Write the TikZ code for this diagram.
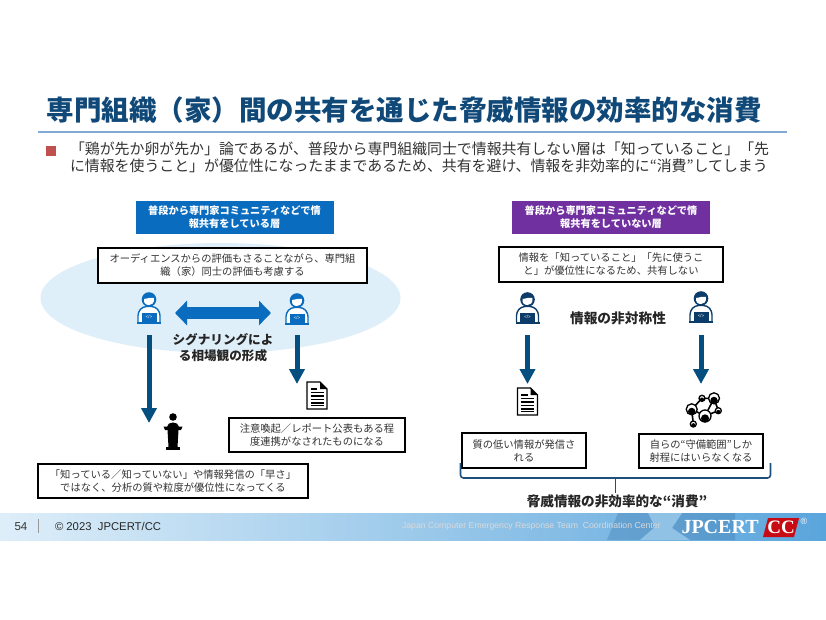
\documentclass[tikz,border=0pt]{standalone}
\usepackage{fontspec}
\setmainfont{Noto Sans CJK JP}
\newfontfamily\latinfont{Liberation Sans}
\newfontfamily\logofont{Liberation Serif}
\usetikzlibrary{arrows.meta}

\definecolor{title-blue}{RGB}{16, 72, 120}
\definecolor{rule-blue}{RGB}{130, 170, 210}
\definecolor{bullet-red}{RGB}{192, 80, 77}
\definecolor{head-blue}{RGB}{10, 108, 190}
\definecolor{head-purple}{RGB}{112, 48, 160}
\definecolor{oval-blue}{RGB}{222, 239, 249}
\definecolor{arrow-blue}{RGB}{4, 78, 128}
\definecolor{brace-blue}{RGB}{30, 80, 125}
\definecolor{icon-dark}{RGB}{12, 60, 105}
\definecolor{body-grey}{RGB}{50, 50, 50}
\definecolor{logo-red}{RGB}{200, 10, 20}
\definecolor{band-light}{RGB}{222, 238, 249}
\definecolor{band-mid}{RGB}{165, 210, 240}
\definecolor{band-deep}{RGB}{90, 165, 220}
\definecolor{map-blue}{RGB}{50, 110, 165}

\tikzset{
    coder/.pic={
        \fill[#1] (0,-13.5) circle (7.3pt);
        \fill[white] (-5,-14) .. controls (-1,-14.5) and (2,-16) .. (5,-15) .. controls (5.5,-9.5) and (2.5,-8) .. (0,-8) .. controls (-3,-8) and (-5.5,-9.5) .. cycle;
        \draw[#1, line width=1.4pt, fill=white, rounded corners=3.5pt] (-11,9) -- (-11,-1) -- (-6,-6.5) -- (6,-6.5) -- (11,-1) -- (11,9);
        \fill[#1] (-7.5,-0.5) rectangle (7.5,8.5);
        \fill[#1] (-12,8.5) rectangle (12,10.5);
        \node[text=white, font=\latinfont\fontsize{4.5}{5}\selectfont, inner sep=0pt] (tag) at (0,4) {</>};
    },
    paper/.pic={
        \draw[black, line width=1.4pt, fill=white] (-10,-13.5) -- (3,-13.5) -- (10,-6.5) -- (10,13.5) -- (-10,13.5) -- cycle;
        \fill[black] (3,-13.5) -- (10,-6.5) -- (3,-6.5) -- cycle;
        \foreach \y in {-3,0.5,4,7.5,10} {
            \draw[black, line width=1.5pt] (-6.5,\y) -- (6.5,\y);
        }
        \draw[black, line width=1.5pt] (-6.5,-6.5) -- (0,-6.5);
    },
    speaker/.pic={
        \fill[black] (0,-15) circle (3.8pt);
        \fill[black] (-6,-5) .. controls (-6,-11) and (6,-11) .. (6,-5) -- cycle;
        \fill[black] (-9.5,-5.5) -- (9.5,-5.5) -- (8,-2) -- (-8,-2) -- cycle;
        \fill[black] (-5.5,-2) -- (5.5,-2) -- (4.5,15) -- (-4.5,15) -- cycle;
        \fill[black] (-7,15) rectangle (7,18);
    },
    linked/.pic={
        \draw[black, line width=1.6pt] (-11.3,-0.7) -- (-1,-11.7) -- (11,-11.7) -- (15.3,0.7) -- (2,6) -- (-11.3,-0.7);
        \draw[black, line width=1.6pt] (2,6) -- (11,-11.7) (-11.3,-0.7) -- (-9.7,14);
        \foreach \x/\y/\r in {-1/-11.7/3, 11/-11.7/5.5, 15.3/0.7/3, 2/6/6, -11.3/-0.7/5.5, -9.7/14/3} {
            \draw[black, line width=1.3pt, fill=white] (\x,\y) circle (\r pt);
            \fill[black] (\x,\y+0.4*\r) circle (0.68*\r pt);
        }
    },
}

\begin{document}
\begin{tikzpicture}[
        x=1pt, y=-1pt,
        every node/.style={align=center, inner sep=0pt, outer sep=0pt},
        titlebox/.style={font=\bfseries\fontsize{27.5}{30}\selectfont, text=title-blue},
        layerbox/.style={text=white, font=\bfseries\fontsize{10.2}{13}\selectfont, minimum width=198pt, minimum height=33pt},
        notebox/.style={draw=black, line width=1.3pt, fill=white, text=body-grey, font=\fontsize{10.3}{13}\selectfont},
        boldlabel/.style={text=black!85, font=\bfseries\fontsize{#1}{16}\selectfont},
        iconbox/.style={minimum width=26pt, minimum height=38pt},
        downarrow/.style={draw=arrow-blue, line width=5pt, -{Triangle[length=15pt, width=15pt]}},
        bothways/.style={draw=head-blue, line width=12pt, {Triangle[length=12pt, width=24pt]}-{Triangle[length=12pt, width=24pt]}},
    ]
    \useasboundingbox (0,0) rectangle (826,620);

    % heading
    \node[titlebox] (title) at (404,110) {専門組織（家）間の共有を通じた脅威情報の効率的な消費};
    \draw[rule-blue, line width=1.2pt] (38,132) -- (787,132);
    \fill[bullet-red] (46,146) rectangle (56,156.5);
    \node[anchor=north west, align=left, text=body-grey, font=\fontsize{14.9}{17}\selectfont] (lead) at (70,142)
        {「鶏が先か卵が先か」論であるが、普段から専門組織同士で情報共有しない層は「知っていること」「先\\
         に情報を使うこと」が優位性になったままであるため、共有を避け、情報を非効率的に“消費”してしまう};

    % left side
    \fill[oval-blue] (220.5,298) ellipse [x radius=180pt, y radius=55pt];
    \node[layerbox, fill=head-blue] (share) at (234.5,217.5) {普段から専門家コミュニティなどで情\\報共有をしている層};
    \node[notebox, minimum width=269pt, minimum height=35pt] (peer) at (232.5,265.5) {オーディエンスからの評価もさることながら、専門組\\織（家）同士の評価も考慮する};

    \node[iconbox] (coder-a) at (149,313) {};
    \node[iconbox] (coder-b) at (297,313) {};
    \pic at (149,313) {coder=head-blue};
    \pic at (297,314) {coder=head-blue};
    \draw[bothways, shorten <=13pt, shorten >=13pt] (coder-a.east) -- (coder-b.west);
    \node[boldlabel=12.6] (signal) at (223,348) {シグナリングによ\\る相場観の形成};

    \coordinate (tip-a) at (149,423);
    \coordinate (tip-b) at (297,384);
    \draw[downarrow, shorten <=3pt] (coder-a.south) -- (tip-a);
    \draw[downarrow, shorten <=3pt] (coder-b.south) -- (tip-b);

    \node[minimum width=20pt, minimum height=27pt] (doc-a) at (317,395.5) {};
    \pic at (317,395.5) {paper};
    \node[minimum width=18pt, minimum height=36pt] (podium) at (173,432) {};
    \pic at (173,432) {speaker};

    \node[notebox, minimum width=176pt, minimum height=34pt] (alert) at (317,435) {注意喚起／レポート公表もある程\\度連携がなされたものになる};
    \node[notebox, minimum width=270pt, minimum height=34pt] (depth) at (173,481) {「知っている／知っていない」や情報発信の「早さ」\\ではなく、分析の質や粒度が優位性になってくる};

    % right side
    \node[layerbox, fill=head-purple] (noshare) at (611,217.5) {普段から専門家コミュニティなどで情\\報共有をしていない層};
    \node[notebox, minimum width=224pt, minimum height=35pt] (avoid) at (611,264.5) {情報を「知っていること」「先に使うこ\\と」が優位性になるため、共有しない};

    \node[iconbox] (coder-c) at (527.5,313) {};
    \node[iconbox] (coder-d) at (701,313) {};
    \pic at (527.5,313) {coder=icon-dark};
    \pic at (701,312) {coder=icon-dark};
    \node[boldlabel=13.7] (gap) at (618,318) {情報の非対称性};

    \node[minimum width=20pt, minimum height=27pt] (doc-b) at (527.5,401.5) {};
    \pic at (527.5,401.5) {paper};
    \node[minimum width=36pt, minimum height=32pt] (net) at (703,410) {};
    \pic at (703,410) {linked};

    \coordinate (tip-d) at (701,384);
    \draw[downarrow, shorten <=3pt, shorten >=4pt] (coder-c.south) -- (doc-b.north);
    \draw[downarrow, shorten <=3pt] (coder-d.south) -- (tip-d);

    \node[notebox, minimum width=124pt, minimum height=35pt] (lowq) at (524,450.5) {質の低い情報が発信さ\\れる};
    \node[notebox, minimum width=124pt, minimum height=34pt] (scope) at (701,451) {自らの“守備範囲”しか\\射程にはいらなくなる};

    \coordinate (brace-l) at (460.5,463);
    \coordinate (brace-r) at (770.5,463);
    \coordinate (brace-m) at (615.5,493);
    \coordinate (brace-c) at (615.5,478);
    \draw[brace-blue, line width=1.6pt, rounded corners=3pt] (brace-l) |- (brace-c) -| (brace-r);
    \draw[brace-blue, line width=1.6pt] (brace-c) -- (brace-m);
    \node[boldlabel=13.6] (waste) at (617,501) {脅威情報の非効率的な“消費”};

    % footer band
    \shade[left color=band-light, middle color=band-mid, right color=band-deep] (0,513) rectangle (826,540);
    \fill[map-blue, opacity=0.3] (607,540) -- (618,513) -- (735,513) -- (735,540) -- cycle;
    \fill[band-mid, opacity=0.7] (640,540) -- (655,527) -- (648,513) -- (682,513) -- (672,528) -- (690,540) -- cycle;
    \node[text=black!80, font=\latinfont\fontsize{11.5}{13}\selectfont] (page) at (21,526.5) {54};
    \draw[black!40, line width=0.7pt] (38,519) -- (38,533);
    \node[anchor=west, text=black!85, font=\latinfont\fontsize{11.3}{13}\selectfont] (copy) at (55,526.5) {© 2023\ \ JPCERT/CC};
    \node[anchor=west, text=white!85!black, font=\latinfont\fontsize{8.7}{10}\selectfont] (jpname) at (402,526.5) {Japan Computer Emergency Response Team\ \ Coordination Center};
    \node[anchor=west, text=white, font=\logofont\bfseries\fontsize{20}{24}\selectfont] (logo) at (681.5,527) {JPCERT};
    \fill[logo-red] (768,518) -- (799,518) -- (794,537) -- (763,537) -- cycle;
    \node[text=white, font=\logofont\bfseries\fontsize{19}{24}\selectfont] (logo-cc) at (781,527.5) {CC};
    \node[text=white, font=\latinfont\fontsize{9}{10}\selectfont] (logo-reg) at (804,521) {®};
\end{tikzpicture}
\end{document}
